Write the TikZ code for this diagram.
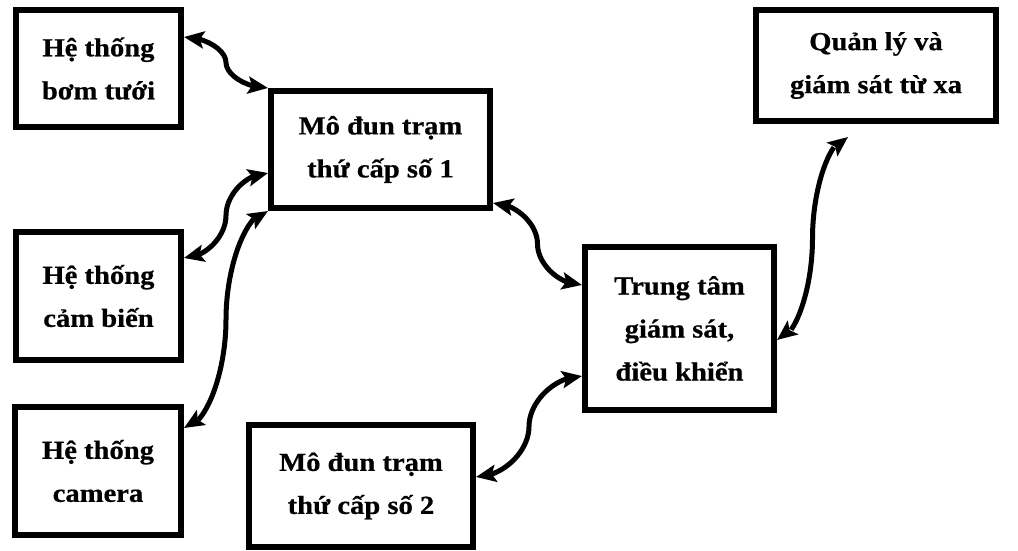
\documentclass[tikz,border=0pt]{standalone}
\usepackage{fontspec}
\setmainfont{Liberation Serif}[FakeStretch=1.1, BoldFeatures={FakeBold=0.6}]
\usetikzlibrary{arrows.meta,bending,calc}

% curved two-way link, start and end leave sideways, middle runs upright
\newcommand{\linkboxes}[2]{%
	\draw[link] let \p1=#1, \p2=#2, \n1={(\x1+\x2)/2}, \n2={(\y1+\y2)/2} in
		(\p1) .. controls ({(\x1+\n1)/2},\y1) and (\n1,{(3*\y1+\y2)/4}) .. (\n1,\n2)
		.. controls (\n1,{(\y1+3*\y2)/4}) and ({(\n1+\x2)/2},\y2) .. (\p2);
}

\begin{document}
\begin{tikzpicture}[x=1pt, y=1pt,
		box/.style={draw, line width=6pt, align=center, inner sep=0pt,
			font=\fontsize{26}{43}\selectfont\bfseries,
			execute at begin node={\rule{0pt}{31pt}}},
		link/.style={line width=5pt, {Stealth[length=20pt, width=17pt, inset=4pt]}-{Stealth[length=20pt, width=17pt, inset=4pt]}}]
		%\draw[lightgray] (0, 0) grid[step=50] (1018, -551);
		\useasboundingbox (0, 0) rectangle (1018, -551);
		
		\node[box, minimum width=165pt, minimum height=117pt] (bom) at (98.5, -68.5) {Hệ thống\\bơm tưới};
		\node[box, minimum width=165pt, minimum height=128pt] (cambien) at (98.5, -296) {Hệ thống\\cảm biến};
		\node[box, minimum width=166pt, minimum height=128pt] (camera) at (98, -471) {Hệ thống\\camera};
		\node[box, minimum width=219pt, minimum height=117pt] (md1) at (380.5, -149.5) {Mô đun trạm\\thứ cấp số 1};
		\node[box, minimum width=224pt, minimum height=122pt] (md2) at (361, -486) {Mô đun trạm\\thứ cấp số 2};
		\node[box, minimum width=189pt, minimum height=163pt] (trungtam) at (679.5, -328.5) {Trung tâm\\giám sát,\\điều khiển};
		\node[box, minimum width=240pt, minimum height=111pt] (quanly) at (876, -65.5) {Quản lý và\\giám sát từ xa};
		
		\linkboxes{([yshift=-30pt]bom.north east)}{(md1.north west)}
		\linkboxes{([yshift=-29pt]cambien.north east)}{([yshift=38pt]md1.south west)}
		\linkboxes{([yshift=-24pt]camera.north east)}{(md1.south west)}
		\linkboxes{([yshift=8pt]md1.south east)}{([yshift=-41pt]trungtam.north west)}
		\linkboxes{([yshift=9pt]md2.east)}{([yshift=37pt]trungtam.south west)}
		\linkboxes{([yshift=-11.5pt]trungtam.east)}{([xshift=-28pt, yshift=-13pt]quanly.south)}
	\end{tikzpicture}
\end{document}
